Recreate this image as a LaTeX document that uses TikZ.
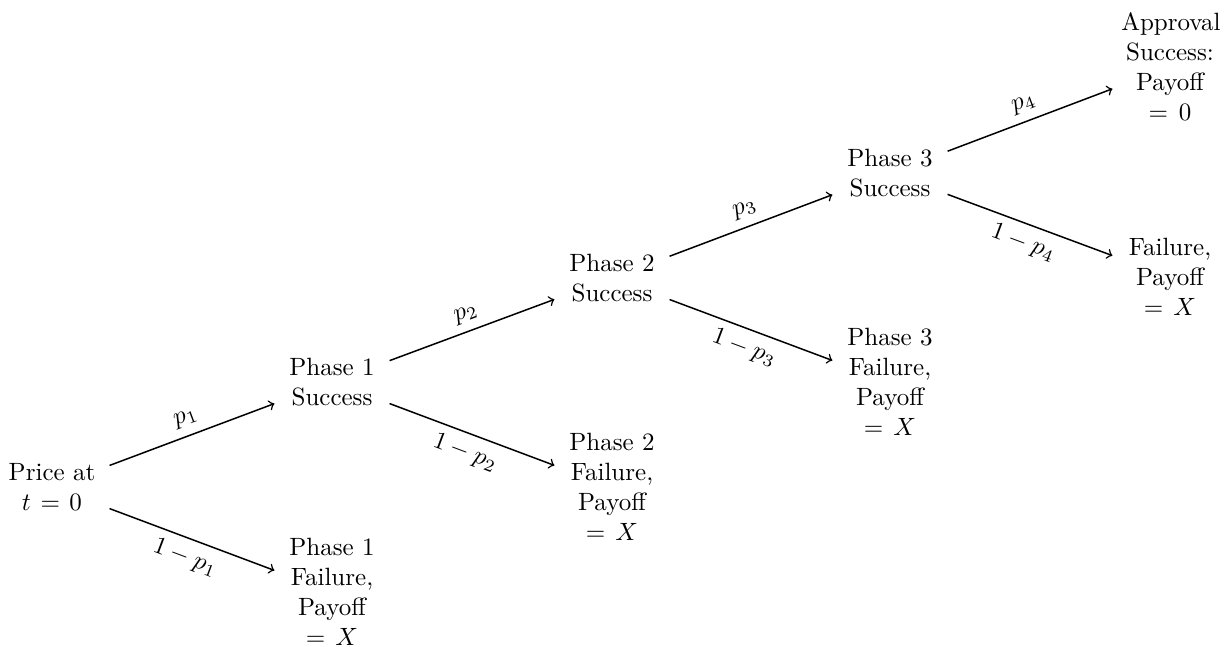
\documentclass[tikz,border=0pt]{standalone}
\begin{document}
\begin{tikzpicture}[x=0.4pt,y=-0.4pt,
  state/.style={text width=39pt,align=center,inner sep=3.33pt},
  branch/.style={->,semithick}]
\useasboundingbox (0,0) rectangle (1224,646);
\node[state] (root) at (52,487) {Price at\\ $t=0$};
\node[state] (p1s) at (332,382) {Phase 1\\ Success};
\node[state] (p1f) at (332,592) {Phase 1\\ Failure,\\ Payoff\\ $=X$};
\node[state] (p2s) at (612,278) {Phase 2\\ Success};
\node[state] (p2f) at (612,487) {Phase 2\\ Failure,\\ Payoff\\ $=X$};
\node[state] (p3s) at (890,173) {Phase 3\\ Success};
\node[state] (p3f) at (890,382) {Phase 3\\ Failure,\\ Payoff\\ $=X$};
\node[state] (app) at (1170,67) {Approval\\ Success:\\ Payoff\\ $=0$};
\node[state] (fail) at (1170,277) {Failure,\\ Payoff\\ $=X$};
\draw[branch] (root) -- node[above,sloped] {$p_1$} (p1s);
\draw[branch] (root) -- node[below,sloped] {$1-p_1$} (p1f);
\draw[branch] (p1s) -- node[above,sloped] {$p_2$} (p2s);
\draw[branch] (p1s) -- node[below,sloped] {$1-p_2$} (p2f);
\draw[branch] (p2s) -- node[above,sloped] {$p_3$} (p3s);
\draw[branch] (p2s) -- node[below,sloped] {$1-p_3$} (p3f);
\draw[branch] (p3s) -- node[above,sloped] {$p_4$} (app);
\draw[branch] (p3s) -- node[below,sloped] {$1-p_4$} (fail);
\end{tikzpicture}
\end{document}
